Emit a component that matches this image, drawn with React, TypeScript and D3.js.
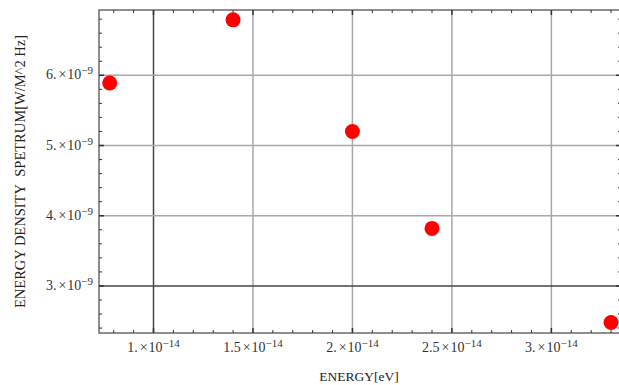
import React from 'react'
import * as d3 from 'd3'

const energy = [0.78e-14, 1.4e-14, 2.0e-14, 2.4e-14, 3.3e-14]
const density = [5.89e-9, 6.79e-9, 5.2e-9, 3.82e-9, 2.48e-9]

const xMajor = [1e-14, 1.5e-14, 2e-14, 2.5e-14, 3e-14]
const xMajorLabels = ['1.', '1.5', '2.', '2.5', '3.']
const yMajor = [3e-9, 4e-9, 5e-9, 6e-9]
const yMajorLabels = ['3.', '4.', '5.', '6.']

const W = 619
const H = 385
const FONT = '"Liberation Serif", "Times New Roman", serif'

// mathematica-style "a.×10^b" label
function SciLabel({ x, y, anchor, mant, exp }: { x: number, y: number, anchor: string, mant: string, exp: string }) {
  return (
    <text x={x} y={y} textAnchor={anchor} fontFamily={FONT} fontSize={14} fill="#333">
      {mant}<tspan dx={2}>×</tspan><tspan dx={1}>10</tspan><tspan dy={-5} fontSize={11}>{exp}</tspan>
    </text>
  )
}

export default function App() {
  const left = 99, right = 621, top = 10, bottom = 333
  const x = d3.scaleLinear().domain([0.726e-14, 3.35e-14]).range([left, right])
  const y = d3.scaleLinear().domain([2.33e-9, 6.93e-9]).range([bottom, top])

  // minor ticks every 0.1e-14 / 0.2e-9
  const xMinor = d3.range(8, 34).map(i => i * 1e-15).filter(v => !xMajor.some(m => Math.abs(m - v) < 1e-17))
  const yMinor = d3.range(12, 35).map(i => i * 2e-10).filter(v => !yMajor.some(m => Math.abs(m - v) < 1e-12))

  const gridCol = '#a8a8a8'
  const axisCol = '#444'
  const frameCol = '#6a6a6a'
  const tickCol = '#333'

  return (
    <svg width={W} height={H} style={{ position: 'absolute', left: 0, top: 0, background: '#fff' }}>
      {/* grid */}
      {xMajor.map((v, i) => (
        <line key={'gx' + i} x1={x(v)} x2={x(v)} y1={top} y2={bottom}
          stroke={i === 0 ? axisCol : gridCol} strokeWidth={1.5} />
      ))}
      {yMajor.map((v, i) => (
        <line key={'gy' + i} x1={left} x2={right} y1={y(v)} y2={y(v)}
          stroke={i === 0 ? axisCol : gridCol} strokeWidth={1.5} />
      ))}

      {/* frame */}
      <rect x={left} y={top} width={right - left} height={bottom - top} fill="none" stroke={frameCol} strokeWidth={1.5} />

      {/* ticks */}
      {xMajor.map((v, i) => (
        <g key={'xt' + i}>
          <line x1={x(v)} x2={x(v)} y1={bottom} y2={bottom - 5} stroke={tickCol} strokeWidth={1.5} />
          <line x1={x(v)} x2={x(v)} y1={top} y2={top + 5} stroke={tickCol} strokeWidth={1.5} />
        </g>
      ))}
      {xMinor.map((v, i) => (
        <g key={'xm' + i}>
          <line x1={x(v)} x2={x(v)} y1={bottom} y2={bottom - 3} stroke={tickCol} strokeWidth={1} />
          <line x1={x(v)} x2={x(v)} y1={top} y2={top + 3} stroke={tickCol} strokeWidth={1} />
        </g>
      ))}
      {yMajor.map((v, i) => (
        <g key={'yt' + i}>
          <line x1={left} x2={left + 5} y1={y(v)} y2={y(v)} stroke={tickCol} strokeWidth={1.5} />
          <line x1={right} x2={right - 5} y1={y(v)} y2={y(v)} stroke={tickCol} strokeWidth={1.5} />
        </g>
      ))}
      {yMinor.map((v, i) => (
        <g key={'ym' + i}>
          <line x1={left} x2={left + 3} y1={y(v)} y2={y(v)} stroke={tickCol} strokeWidth={1} />
          <line x1={right} x2={right - 3} y1={y(v)} y2={y(v)} stroke={tickCol} strokeWidth={1} />
        </g>
      ))}

      {/* tick labels */}
      {xMajor.map((v, i) => (
        <SciLabel key={'xl' + i} x={x(v)} y={351.5} anchor="middle" mant={xMajorLabels[i]} exp="−14" />
      ))}
      {yMajor.map((v, i) => (
        <SciLabel key={'yl' + i} x={93} y={y(v) + 4} anchor="end" mant={yMajorLabels[i]} exp="−9" />
      ))}

      {/* axis labels */}
      <text x={359} y={381} textAnchor="middle" fontFamily={FONT} fontSize={13.5} fill="#222">ENERGY[eV]</text>
      <text transform="translate(25,308) rotate(-90)" textAnchor="start"
        fontFamily={FONT} fontSize={14.5} fill="#222">ENERGY DENSITY</text>
      <text transform="translate(25,35) rotate(-90)" textAnchor="end"
        fontFamily={FONT} fontSize={14.5} fill="#222">SPETRUM[W/M^2 Hz]</text>

      {/* points */}
      {energy.map((e, i) => (
        <circle key={'p' + i} cx={x(e)} cy={y(density[i])} r={7.5} fill="#ff0000" />
      ))}
    </svg>
  )
}
